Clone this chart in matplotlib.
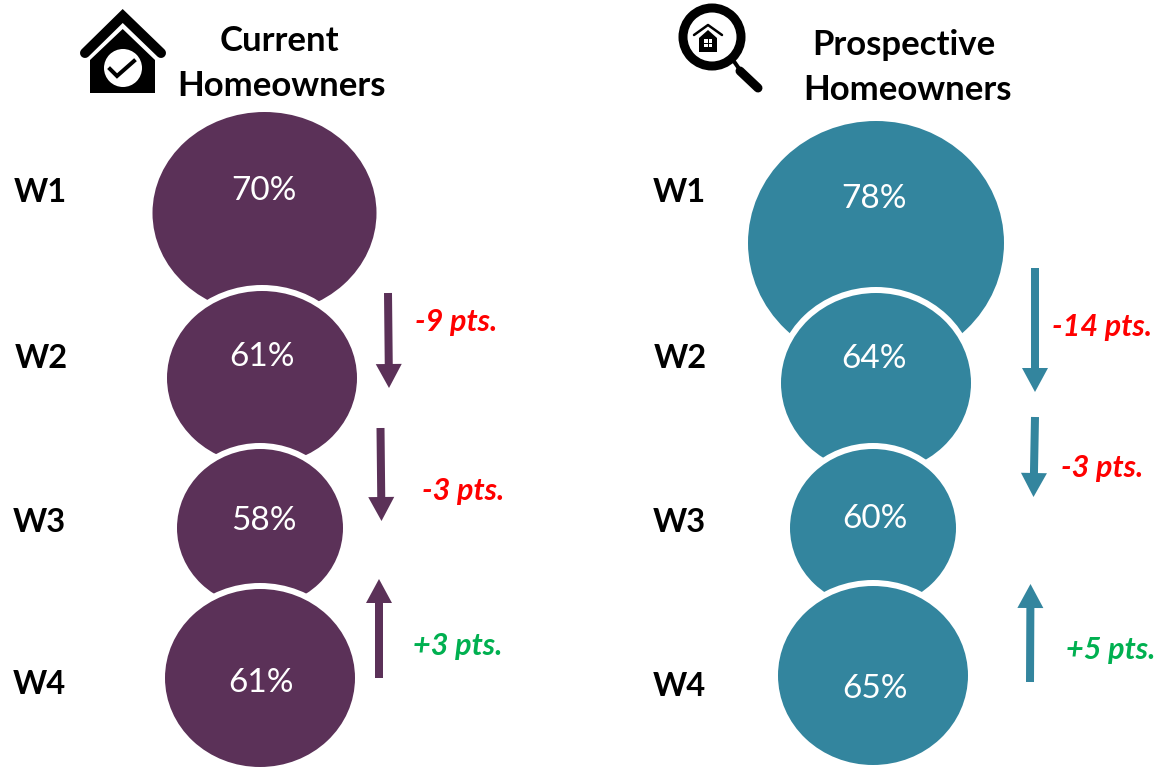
import matplotlib
matplotlib.use("Agg")
import matplotlib.pyplot as plt
from matplotlib.patches import Ellipse, Circle, Polygon, FancyArrowPatch, Rectangle

plt.rcParams["font.family"] = ["Lato", "DejaVu Sans"]

waves = ["W1", "W2", "W3", "W4"]
current_pct = [70, 61, 58, 61]
prospective_pct = [78, 64, 60, 65]
current_change = [-9, -3, 3]
prospective_change = [-14, -3, 5]

PURPLE = "#5B3158"
TEAL = "#33859E"
RED = "#FF0000"
GREEN = "#00B050"
PX = 0.72  # points per pixel at dpi 100

# layout in image pixels: bubble (cx, cy, rx, ry)
current_bubbles = [(264.5, 213, 112, 101), (262, 378, 95, 87), (260, 528, 83, 79), (260, 678, 95, 89)]
prospective_bubbles = [(876, 243, 128, 122), (876, 383, 95, 90), (873, 528, 83, 79), (873, 675.5, 95, 89.5)]
current_pct_xy = [(264, 191), (262, 357), (264, 521), (261, 683)]
prospective_pct_xy = [(874, 199), (874, 359), (875, 519), (875, 689)]
current_wave_xy = [(40, 192), (41, 358), (39, 523), (39, 685)]
prospective_wave_xy = [(679, 192), (680, 358), (679, 523), (679, 686)]
# arrow (x0, y0, x1, y1) tail to tip
current_arrows = [(388, 293, 389, 388), (380.5, 428, 381.5, 521), (379, 678, 379, 579)]
prospective_arrows = [(1035, 268, 1035, 392), (1035, 417, 1033.5, 497), (1030, 682, 1030.5, 584)]
current_change_xy = [(456, 322), (463, 491), (458, 646)]
prospective_change_xy = [(1102, 327), (1102, 468), (1111, 650)]

fig = plt.figure(figsize=(11.55, 7.67), dpi=100)
ax = fig.add_axes([0, 0, 1, 1])
ax.set_xlim(0, 1155)
ax.set_ylim(767, 0)
ax.axis("off")


def panel(pcts, changes, color, bubbles, pct_xy, wave_xy, arrows, change_xy):
    z = 2
    for cx, cy, rx, ry in bubbles:
        ax.add_patch(Ellipse((cx, cy), 2 * rx + 12, 2 * ry + 12, color="white", lw=0, zorder=z))
        ax.add_patch(Ellipse((cx, cy), 2 * rx, 2 * ry, color=color, lw=0, zorder=z + 1))
        z += 2
    for p, (x, y) in zip(pcts, pct_xy):
        ax.text(x, y, f"{p}%", color="white", fontsize=24, ha="center", va="center", zorder=20)
    for w, (x, y) in zip(waves, wave_xy):
        ax.text(x, y, w, color="black", fontsize=23.5, fontweight="bold", ha="center", va="center")
    for x0, y0, x1, y1 in arrows:
        style = f"simple,head_length={24 * PX},head_width={26 * PX},tail_width={8 * PX}"
        ax.add_patch(FancyArrowPatch((x0, y0), (x1, y1), arrowstyle=style, mutation_scale=1,
                                     shrinkA=0, shrinkB=0, color=color, lw=0, zorder=5))
    for c, (x, y) in zip(changes, change_xy):
        ax.text(x, y, f"{c:+d} pts.", color=GREEN if c > 0 else RED, fontsize=22,
                fontweight="bold", fontstyle="italic", ha="center", va="center")


panel(current_pct, current_change, PURPLE, current_bubbles, current_pct_xy,
      current_wave_xy, current_arrows, current_change_xy)
panel(prospective_pct, prospective_change, TEAL, prospective_bubbles, prospective_pct_xy,
      prospective_wave_xy, prospective_arrows, prospective_change_xy)

# headers
for s, x, y in [("Current", 279, 41), ("Homeowners", 282, 86), ("Prospective", 904, 45), ("Homeowners", 907, 90)]:
    ax.text(x, y, s, color="black", fontsize=25, fontweight="bold", ha="center", va="center")

# house icon
ax.plot([85, 122.7, 161], [53, 16, 53], color="black", lw=10 * PX, solid_capstyle="round", solid_joinstyle="miter")
ax.add_patch(Polygon([(122.7, 29), (90, 60), (90, 93), (155, 93), (155, 60)], color="black", lw=0))
ax.add_patch(Circle((123, 68), 19, color="white", lw=0))
ax.plot([110, 117, 134], [69, 76, 61], color="black", lw=4 * PX, solid_joinstyle="miter")

# magnifying glass icon
ax.add_patch(Circle((712, 37), 29, fc="none", ec="black", lw=9 * PX))
ax.plot([733, 740], [60, 70], color="black", lw=4 * PX)
ax.plot([740, 758], [71, 88], color="black", lw=9 * PX, solid_capstyle="round")
ax.plot([694, 708, 722], [35, 25, 35], color="black", lw=2.5 * PX, solid_capstyle="round")
ax.add_patch(Polygon([(708, 30), (699, 38), (699, 52), (717, 52), (717, 38)], color="black", lw=0))
ax.add_patch(Rectangle((704, 39), 8, 8, color="white", lw=0))
ax.plot([708, 708], [39, 47], color="black", lw=1 * PX)
ax.plot([704, 712], [43, 43], color="black", lw=1 * PX)

fig.savefig("out.png", dpi=100)
